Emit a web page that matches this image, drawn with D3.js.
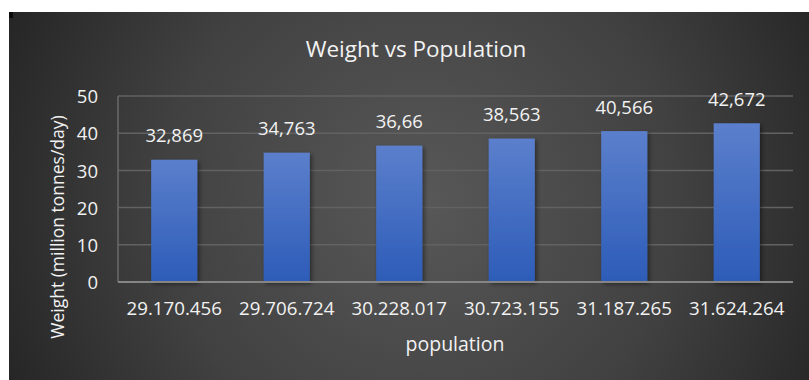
<!DOCTYPE html>
<html>
<head>
<meta charset="utf-8">
<script src="https://cdn.jsdelivr.net/npm/d3@7"></script>
<style>
  html, body { margin: 0; padding: 0; background: #ffffff; }
  svg { display: block; }
  text { font-family: "Open Sans", "Noto Sans", sans-serif; }
</style>
</head>
<body>
<svg id="chart" width="809" height="380"></svg>
<script>
// Population (x categories) and daily weight in million tonnes
const populations = ["29.170.456", "29.706.724", "30.228.017", "30.723.155", "31.187.265", "31.624.264"];
const weights = [32.869, 34.763, 36.66, 38.563, 40.566, 42.672];
const valueLabels = ["32,869", "34,763", "36,66", "38,563", "40,566", "42,672"];
const yTicks = [0, 10, 20, 30, 40, 50];

const svg = d3.select("#chart");
const W = 809, H = 380;
const frame = { x: 9, y: 12, w: W - 9, h: H - 12 };
const plot = { left: 118, right: 793, top: 96, bottom: 282 };
const textColor = "#f2f2f2";

const defs = svg.append("defs");

// dark radial background
const bg = defs.append("radialGradient").attr("id", "bgGrad")
  .attr("gradientUnits", "userSpaceOnUse")
  .attr("cx", 420).attr("cy", 200).attr("r", 470);
bg.append("stop").attr("offset", "0%").attr("stop-color", "#585858");
bg.append("stop").attr("offset", "55%").attr("stop-color", "#414141");
bg.append("stop").attr("offset", "100%").attr("stop-color", "#232323");

// bar fill: lighter blue at top, deeper blue at bottom
const barGrad = defs.append("linearGradient").attr("id", "barGrad")
  .attr("x1", 0).attr("y1", 0).attr("x2", 0).attr("y2", 1);
barGrad.append("stop").attr("offset", "0%").attr("stop-color", "#5b7fcc");
barGrad.append("stop").attr("offset", "100%").attr("stop-color", "#2d5cb8");

const shadow = defs.append("filter").attr("id", "barShadow")
  .attr("x", "-20%").attr("y", "-10%").attr("width", "150%").attr("height", "130%");
shadow.append("feDropShadow").attr("dx", 2).attr("dy", 2).attr("stdDeviation", 2)
  .attr("flood-color", "#000").attr("flood-opacity", 0.45);

svg.append("rect")
  .attr("x", frame.x).attr("y", frame.y)
  .attr("width", frame.w).attr("height", frame.h)
  .attr("fill", "url(#bgGrad)");
svg.append("rect").attr("x", frame.x).attr("y", frame.y)
  .attr("width", 4).attr("height", 6).attr("fill", "#0a0a0a");

const x = d3.scaleBand()
  .domain(populations)
  .range([plot.left, plot.right])
  .paddingInner(0.59)
  .paddingOuter(0.295);

const y = d3.scaleLinear()
  .domain([0, 50])
  .range([plot.bottom, plot.top]);

// horizontal gridlines
svg.append("g")
  .selectAll("line")
  .data(yTicks.filter(t => t > 0))
  .join("line")
  .attr("x1", plot.left).attr("x2", plot.right)
  .attr("y1", d => y(d)).attr("y2", d => y(d))
  .attr("stroke", "#626262").attr("stroke-width", 1.5);

// left plot border
svg.append("line")
  .attr("x1", plot.left).attr("x2", plot.left)
  .attr("y1", plot.top).attr("y2", plot.bottom)
  .attr("stroke", "#6a6a6a").attr("stroke-width", 1.5);

// bars
svg.append("g")
  .selectAll("rect")
  .data(weights)
  .join("rect")
  .attr("x", (d, i) => x(populations[i]))
  .attr("y", d => y(d))
  .attr("width", x.bandwidth())
  .attr("height", d => y(0) - y(d))
  .attr("fill", "url(#barGrad)")
  .attr("filter", "url(#barShadow)");

// baseline axis
svg.append("line")
  .attr("x1", plot.left).attr("x2", plot.right)
  .attr("y1", y(0)).attr("y2", y(0))
  .attr("stroke", "#858585").attr("stroke-width", 2);

// data labels
svg.append("g")
  .selectAll("text")
  .data(weights)
  .join("text")
  .attr("x", (d, i) => x(populations[i]) + x.bandwidth() / 2)
  .attr("y", d => y(d) - 17.5)
  .attr("text-anchor", "middle")
  .attr("font-size", 18.5)
  .attr("fill", textColor)
  .text((d, i) => valueLabels[i]);

// y axis
const yAxis = d3.axisLeft(y).tickValues(yTicks).tickSize(0).tickPadding(20);
const gy = svg.append("g").attr("transform", `translate(${plot.left},0)`).call(yAxis);
gy.select(".domain").remove();
gy.selectAll("text")
  .attr("font-family", "'Open Sans', sans-serif")
  .attr("font-size", 18.5)
  .attr("fill", textColor)
  .attr("dy", "0.36em");

// x axis
const xAxis = d3.axisBottom(x).tickSize(0).tickPadding(20);
const gx = svg.append("g").attr("transform", `translate(0,${plot.bottom})`).call(xAxis);
gx.select(".domain").remove();
gx.selectAll("text")
  .attr("font-family", "'Open Sans', sans-serif")
  .attr("font-size", 18.7)
  .attr("fill", textColor)
  .attr("dy", "0.71em");

// titles
svg.append("text")
  .attr("x", 416).attr("y", 56.5)
  .attr("text-anchor", "middle")
  .attr("font-size", 22.5)
  .attr("fill", textColor)
  .text("Weight vs Population");

svg.append("text")
  .attr("x", 455).attr("y", 351)
  .attr("text-anchor", "middle")
  .attr("font-size", 19.5)
  .attr("fill", textColor)
  .text("population");

svg.append("text")
  .attr("transform", "translate(64,227) rotate(-90)")
  .attr("text-anchor", "middle")
  .attr("font-size", 17.5)
  .attr("fill", textColor)
  .text("Weight (million tonnes/day)");
</script>
</body>
</html>
